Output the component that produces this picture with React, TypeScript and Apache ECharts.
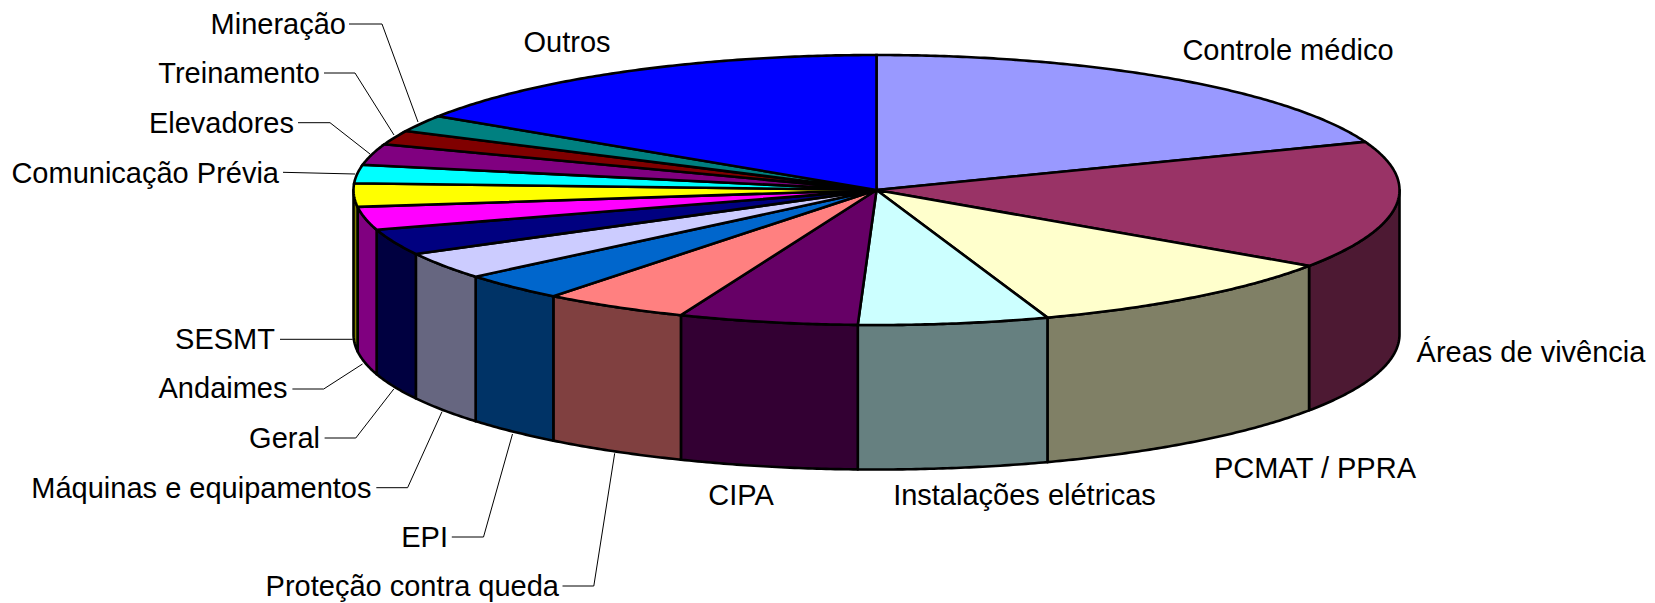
import React, { useEffect, useRef } from "react";
import * as echarts from "echarts";

const categories = [
  "Controle médico", "Áreas de vivência", "PCMAT / PPRA", "Instalações elétricas", "CIPA",
  "Proteção contra queda", "EPI", "Máquinas e equipamentos", "Geral", "Andaimes", "SESMT",
  "Comunicação Prévia", "Elevadores", "Treinamento", "Mineração", "Outros",
];
const values = [19.2, 15.3, 10.2, 5.87, 5.53, 4.5, 3.3, 3.25, 3.1, 2.75, 2.8, 2.2, 2.5, 1.7, 2.0, 15.8];
const topColors = [
  "#9999FF", "#993366", "#FFFFCC", "#CCFFFF", "#660066", "#FF8080", "#0066CC", "#CCCCFF",
  "#000080", "#FF00FF", "#FFFF00", "#00FFFF", "#800080", "#800000", "#008080", "#0000FF",
];
const sideColors = [
  "#4C4C80", "#4D1933", "#808066", "#668080", "#330033", "#804040", "#003366", "#666680",
  "#000040", "#800080", "#808000", "#008080", "#400040", "#400000", "#004040", "#000080",
];

const CX = 876.5, CY = 190, RX = 523, RY = 135, DEPTH = 144.5;
const FONT = '29px "Liberation Sans", Arial, sans-serif';

// label placement: [anchor x, centre y, align, optional leader points]
const labelPlacement: Record<string, { x: number; y: number; align: string; leader?: number[][] }> = {
  "Controle médico": { x: 1288, y: 50, align: "center" },
  "Áreas de vivência": { x: 1531, y: 352, align: "center" },
  "PCMAT / PPRA": { x: 1315, y: 468, align: "center" },
  "Instalações elétricas": { x: 1024.5, y: 495, align: "center" },
  CIPA: { x: 741, y: 495, align: "center" },
  "Proteção contra queda": { x: 559, y: 586, align: "right", leader: [[562.5, 586], [593.8, 586], [614.7, 453.3]] },
  EPI: { x: 448, y: 537, align: "right", leader: [[451.8, 537], [483.5, 537], [512.5, 434]] },
  "Máquinas e equipamentos": { x: 371.5, y: 487.7, align: "right", leader: [[376.3, 487.7], [407.6, 487.7], [442, 411.7]] },
  Geral: { x: 320, y: 437.5, align: "right", leader: [[324.6, 438], [355.8, 438], [393.8, 389]] },
  Andaimes: { x: 287.5, y: 388, align: "right", leader: [[292.4, 389], [323.7, 389], [362.5, 364]] },
  SESMT: { x: 275, y: 339, align: "right", leader: [[280, 339.3], [352.7, 339.3]] },
  "Comunicação Prévia": { x: 279, y: 172.5, align: "right", leader: [[283, 172.3], [355, 174]] },
  Elevadores: { x: 294, y: 122.5, align: "right", leader: [[298, 122.7], [330, 122.7], [370, 154]] },
  Treinamento: { x: 320, y: 73, align: "right", leader: [[324, 73], [355, 73], [394, 135]] },
  Mineração: { x: 346, y: 24, align: "right", leader: [[349, 24], [382, 24], [418, 122]] },
  Outros: { x: 567, y: 42, align: "center" },
};

const total = values.reduce((a, b) => a + b, 0);
const sliceRange = (i: number): [number, number] => {
  let before = 0;
  for (let k = 0; k < i; k++) before += values[k];
  return [(before / total) * 360, ((before + values[i]) / total) * 360];
};
const pointAt = (deg: number, dy = 0): number[] => {
  const r = (deg * Math.PI) / 180;
  return [CX + RX * Math.sin(r), CY - RY * Math.cos(r) + dy];
};
const arcPoints = (a: number, b: number, dy = 0): number[][] => {
  const pts: number[][] = [];
  const n = Math.max(2, Math.ceil((b - a) * 2));
  for (let k = 0; k <= n; k++) pts.push(pointAt(a + ((b - a) * k) / n, dy));
  return pts;
};

const renderTop = (params: any) => {
  const [a, b] = sliceRange(params.dataIndex);
  return {
    type: "polygon",
    shape: { points: [[CX, CY], ...arcPoints(a, b)] },
    style: { fill: topColors[params.dataIndex], stroke: "#000", lineWidth: 2.6, lineJoin: "miter" },
  };
};
const renderSide = (params: any) => {
  const [a0, b0] = sliceRange(params.dataIndex);
  const a = Math.max(a0, 90);
  const b = Math.min(b0, 270);
  if (b <= a) return { type: "group", children: [] };
  return {
    type: "polygon",
    shape: { points: [...arcPoints(a, b), ...arcPoints(a, b, DEPTH).reverse()] },
    style: { fill: sideColors[params.dataIndex], stroke: "#000", lineWidth: 2.6, lineJoin: "round" },
  };
};

export default function App() {
  const ref = useRef<HTMLDivElement>(null);
  useEffect(() => {
    const chart = echarts.init(ref.current!, null, { renderer: "svg" });
    const graphics: any[] = [];
    categories.forEach((name) => {
      const p = labelPlacement[name];
      if (p.leader) {
        graphics.push({
          type: "polyline",
          z: 5,
          shape: { points: p.leader },
          style: { stroke: "#000", lineWidth: 1, fill: "none" },
        });
      }
      graphics.push({
        type: "text",
        z: 6,
        x: p.x,
        y: p.y,
        style: { text: name, fill: "#000", font: FONT, textAlign: p.align, textVerticalAlign: "middle" },
      });
    });
    chart.setOption({
      animation: false,
      backgroundColor: "#fff",
      series: [
        {
          type: "custom",
          coordinateSystem: "none",
          z: 1,
          silent: true,
          data: values.map((v, i) => ({ name: categories[i], value: v })),
          renderItem: renderSide,
        },
        {
          type: "custom",
          coordinateSystem: "none",
          z: 2,
          silent: true,
          data: values.map((v, i) => ({ name: categories[i], value: v })),
          renderItem: renderTop,
        },
      ],
      graphic: graphics,
    });
    return () => chart.dispose();
  }, []);
  return <div ref={ref} style={{ position: "absolute", left: 0, top: 0, width: 1655, height: 603 }} />;
}
